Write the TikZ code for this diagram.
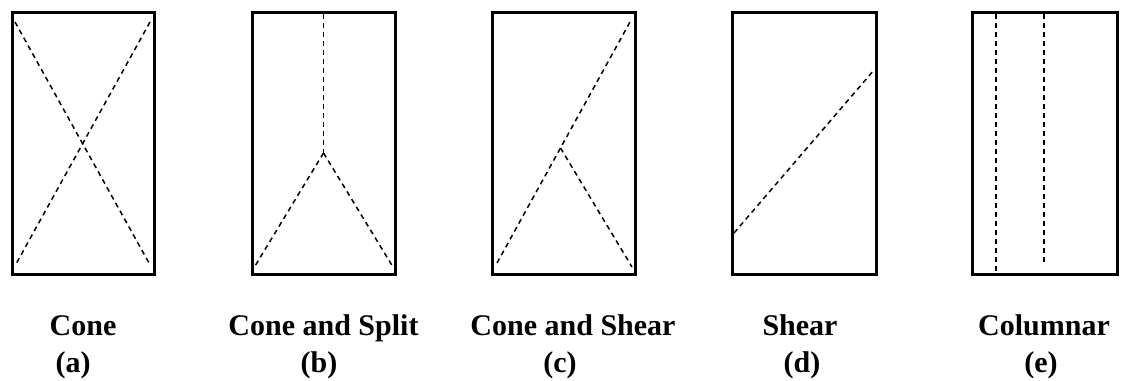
\documentclass[tikz,border=0pt]{standalone}
\usepackage{fontspec}
\setmainfont{Liberation Serif}
\begin{document}
\begin{tikzpicture}[x=1pt,y=-1pt,
  frame/.style={draw=black,line width=3pt},
  crack/.style={draw=black,line width=1.5pt,dash pattern=on 5pt off 4pt},
  lbl/.style={anchor=base,inner sep=0pt,font=\fontsize{30}{36}\selectfont\bfseries}]
\useasboundingbox[fill=white] (0,0) rectangle (1123,380);
% frames
\draw[frame] (12,12) rectangle (154,274);
\draw[frame] (252,12) rectangle (395,274);
\draw[frame] (492,12) rectangle (635,274);
\draw[frame] (732,12) rectangle (876,274);
\draw[frame] (972,12) rectangle (1117,274);
% (a) cone
\coordinate (a1) at (15,22);
\coordinate (a2) at (150,22);
\coordinate (a3) at (16,264);
\coordinate (a4) at (149,263);
\draw[crack] (a1) -- (a4);
\draw[crack] (a2) -- (a3);
% (b) cone and split
\coordinate (b0) at (323.5,14);
\coordinate (bA) at (323.5,153);
\coordinate (b1) at (255,266);
\coordinate (b2) at (393,267);
\draw[crack] (b0) -- (bA);
\draw[crack] (bA) -- (b1);
\draw[crack] (bA) -- (b2);
% (c) cone and shear
\coordinate (c1) at (497,263);
\coordinate (c2) at (630,22);
\coordinate (cA) at (560.5,148);
\coordinate (c3) at (632,267);
\draw[crack] (c1) -- (c2);
\draw[crack] (cA) -- (c3);
% (d) shear
\coordinate (d1) at (734,233);
\coordinate (d2) at (874,70);
\draw[crack] (d1) -- (d2);
% (e) columnar
\coordinate (e1) at (996,14);
\coordinate (e2) at (996,271);
\coordinate (e3) at (1044,14);
\coordinate (e4) at (1044,264);
\draw[crack] (e1) -- (e2);
\draw[crack] (e3) -- (e4);
% labels
\node[lbl] (la) at (83,335) {Cone};
\node[lbl] (pa) at (73,372) {(a)};
\node[lbl] (lb) at (323.5,335) {Cone and Split};
\node[lbl] (pb) at (319,372) {(b)};
\node[lbl] (lc) at (573,335) {Cone and Shear};
\node[lbl] (pc) at (560,372) {(c)};
\node[lbl] (ld) at (800,335) {Shear};
\node[lbl] (pd) at (802,372) {(d)};
\node[lbl] (le) at (1044,335) {Columnar};
\node[lbl] (pe) at (1041,372) {(e)};
\end{tikzpicture}
\end{document}
